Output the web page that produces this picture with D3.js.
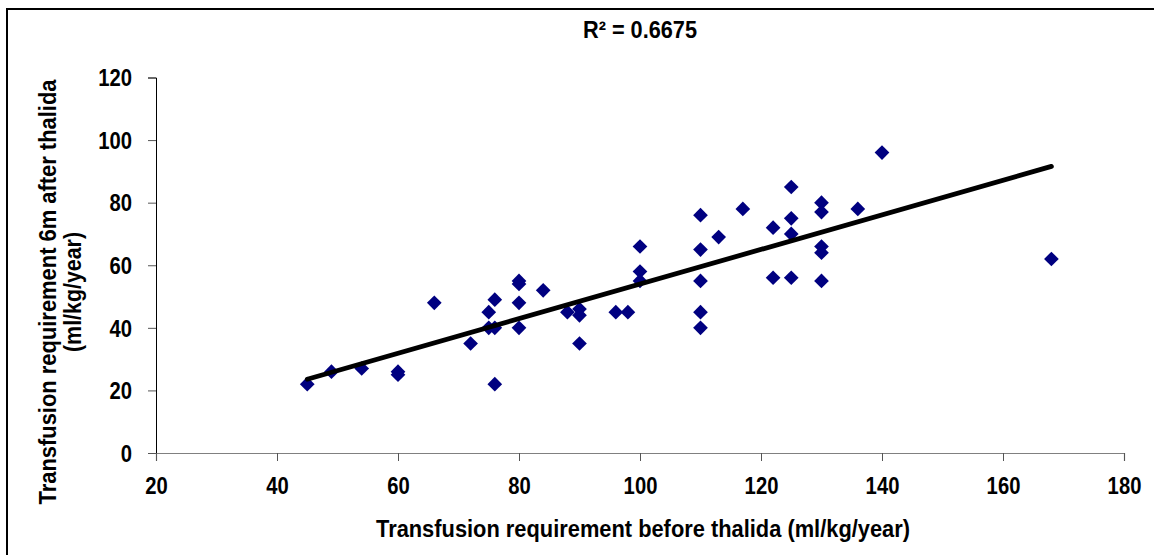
<!DOCTYPE html>
<html>
<head>
<meta charset="utf-8">
<script src="https://cdn.jsdelivr.net/npm/d3@7"></script>
<style>
  html, body { margin: 0; padding: 0; background: #fff; }
  svg text { font-family: "Liberation Sans", Arial, sans-serif; font-weight: bold; fill: #000; }
</style>
</head>
<body>
<svg id="chart" width="1154" height="555"></svg>
<script>
// ---- data ----
const beforeThalida = [45, 49, 54, 60, 60, 66, 72, 75, 75, 76, 76, 76, 80, 80, 80, 80, 84, 88, 90, 90, 90, 96, 98,
  100, 100, 100, 110, 110, 110, 110, 110, 113, 117, 122, 122, 125, 125, 125, 125, 130, 130, 130, 130, 130, 136, 140, 168];
const after6m = [22, 26, 27, 26, 25, 48, 35, 45, 40, 22, 49, 40, 55, 54, 48, 40, 52, 45, 46, 44, 35, 45, 45,
  66, 58, 55, 76, 65, 55, 45, 40, 69, 78, 72, 56, 85, 75, 70, 56, 80, 77, 66, 64, 55, 78, 96, 62];
// linear trendline as drawn in the reference (y = slope * x + intercept)
const trendSlope = 0.553;
const trendIntercept = -1.3;
const xTicks = [20, 40, 60, 80, 100, 120, 140, 160, 180];
const yTicks = [0, 20, 40, 60, 80, 100, 120];
const titleText = "R\u00B2 = 0.6675";
const xTitle = "Transfusion requirement before thalida (ml/kg/year)";
const yTitleLines = ["Transfusion requirement 6m after thalida", "(ml/kg/year)"];

const svg = d3.select("#chart");
const plot = { left: 156, right: 1124, top: 77.5, bottom: 453 };

// squeeze text horizontally (narrow bold look)
function squeeze(sel, k) {
  sel.each(function () {
    const w = this.getComputedTextLength();
    d3.select(this).attr("textLength", w * k).attr("lengthAdjust", "spacingAndGlyphs");
  });
}

// outer frame (extends past right/bottom edges as in the reference)
svg.append("rect").attr("x", 7).attr("y", 9).attr("width", 1200).attr("height", 600)
  .attr("fill", "none").attr("stroke", "#000").attr("stroke-width", 2);

const x = d3.scaleLinear().domain([20, 180]).range([plot.left, plot.right]);
const y = d3.scaleLinear().domain([0, 120]).range([plot.bottom, plot.top]);

// y axis
const yAxis = svg.append("g").attr("transform", `translate(${plot.left},0)`)
  .call(d3.axisLeft(y).tickValues(yTicks).tickSize(8).tickPadding(16).tickFormat(d3.format("d")));
yAxis.select(".domain").attr("stroke", "#000").attr("stroke-width", 1);
yAxis.selectAll(".tick line").attr("stroke", "#555");
yAxis.selectAll(".tick text").attr("font-size", 23).attr("dy", "0.36em").call(squeeze, 0.88);

// x axis
const xAxis = svg.append("g").attr("transform", `translate(0,${plot.bottom})`)
  .call(d3.axisBottom(x).tickValues(xTicks).tickSize(8).tickPadding(17).tickFormat(d3.format("d")));
xAxis.select(".domain").attr("stroke", "#808080").attr("stroke-width", 1.2);
xAxis.selectAll(".tick line").attr("stroke", "#555");
xAxis.selectAll(".tick text").attr("font-size", 23).call(squeeze, 0.88);

// points
const pts = beforeThalida.map((v, i) => ({ x: v, y: after6m[i] }));
svg.append("g").selectAll("path").data(pts).join("path")
  .attr("d", d3.symbol(d3.symbolSquare, 108)())
  .attr("transform", d => `translate(${x(d.x)},${y(d.y)}) rotate(45)`)
  .attr("fill", "#000080");

// trendline across the data range
const [x0, x1] = d3.extent(pts, d => d.x);
svg.append("path")
  .datum([x0, x1])
  .attr("d", d3.line().x(d => x(d)).y(d => y(trendIntercept + trendSlope * d)))
  .attr("stroke", "#000").attr("stroke-width", 4.8).attr("fill", "none").attr("stroke-linecap", "round");

// titles
svg.append("text").attr("x", 640).attr("y", 38).attr("text-anchor", "middle")
  .attr("font-size", 24).attr("textLength", 114).attr("lengthAdjust", "spacingAndGlyphs").text(titleText);
svg.append("text").attr("x", 643).attr("y", 537).attr("text-anchor", "middle")
  .attr("font-size", 23).attr("textLength", 534).attr("lengthAdjust", "spacingAndGlyphs").text(xTitle);
const yt = svg.append("text").attr("transform", "translate(56,292) rotate(-90)")
  .attr("text-anchor", "middle").attr("font-size", 23);
yt.append("tspan").attr("x", 0).attr("y", 0)
  .attr("textLength", 425).attr("lengthAdjust", "spacingAndGlyphs").text(yTitleLines[0]);
yt.append("tspan").attr("x", 0).attr("y", 25)
  .attr("textLength", 120).attr("lengthAdjust", "spacingAndGlyphs").text(yTitleLines[1]);
</script>
</body>
</html>
